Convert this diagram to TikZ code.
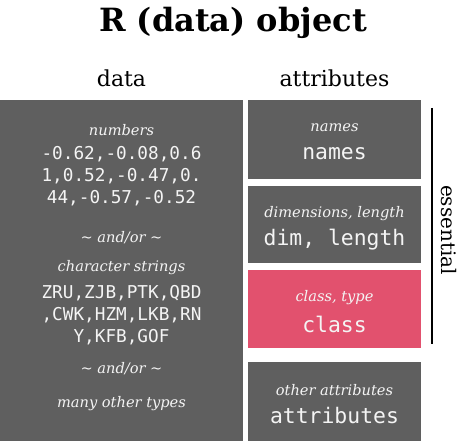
\documentclass[tikz,border=0pt]{standalone}
\usepackage{fontspec}
\setmainfont{DejaVu Serif}
\setmonofont{DejaVu Sans Mono}
\usetikzlibrary{positioning}
\definecolor{boxgray}{HTML}{5F5F5F}
\definecolor{classpink}{HTML}{E2516E}
\definecolor{boxtext}{HTML}{F4F4F4}

\begin{document}
\begin{tikzpicture}[x=1pt, y=-1pt,
  box/.style={fill=boxgray, inner sep=0pt, anchor=north west},
  lbl/.style={text=boxtext, font=\fontsize{14.6}{16}\selectfont\itshape, inner sep=0pt},
  datacode/.style={text=boxtext, font=\fontsize{17.7}{22}\ttfamily, inner sep=0pt, align=center},
  attrcode/.style={text=boxtext, font=\fontsize{21.4}{24}\ttfamily, inner sep=0pt},
  head/.style={font=\fontsize{22}{24}\selectfont, inner sep=0pt}]

\useasboundingbox (0,0) rectangle (466,441);

% Title and column heads
\node[font=\fontsize{32}{36}\selectfont\bfseries, inner sep=0pt] (title) at (233,23) {R (data) object};
\node[head] (datah) at (121.5,78) {data};
\node[head] (attrh) at (334.5,78) {attributes};

% Data box
\node[box, minimum width=243pt, minimum height=341pt] (datab) at (0,100) {};
\node[lbl] (numl) at (121.5,130) {numbers};
\node[datacode] (nums) at (121.5,176) {-0.62,-0.08,0.6\\1,0.52,-0.47,0.\\44,-0.57,-0.52};
\node[lbl] (or1) at (121.5,238) {\textasciitilde{} and/or \textasciitilde};
\node[lbl] (chrl) at (121.5,268) {character strings};
\node[datacode] (chrs) at (121.5,315) {ZRU,ZJB,PTK,QBD\\,CWK,HZM,LKB,RN\\Y,KFB,GOF};
\node[lbl] (or2) at (121.5,369) {\textasciitilde{} and/or \textasciitilde};
\node[lbl] (manyl) at (121.5,404) {many other types};

% Attribute boxes
\foreach \name/\ytop/\boxh/\col/\ital/\code in {
    names/100/79/boxgray/names/names,
    dim/186/77/boxgray/{dimensions, length}/{dim, length},
    class/270/78/classpink/{class, type}/class,
    other/362/79/boxgray/other attributes/attributes} {
  \node[box, fill=\col, minimum width=173pt, minimum height=\boxh pt] (\name) at (248,\ytop) {};
  \node[lbl] (\name l) at (334.5,\ytop+28) {\ital};
  \node[attrcode] (\name c) at (334.5,\ytop+54) {\code};
}

% Essential bracket
\coordinate (esstop) at (432,108);
\coordinate (essbot) at (432,344);
\draw[line width=2pt] (esstop) -- (essbot);
\node[font=\fontsize{20}{24}\selectfont, inner sep=0pt, rotate=-90] (ess) at (448.5,230) {essential};
\end{tikzpicture}
\end{document}
